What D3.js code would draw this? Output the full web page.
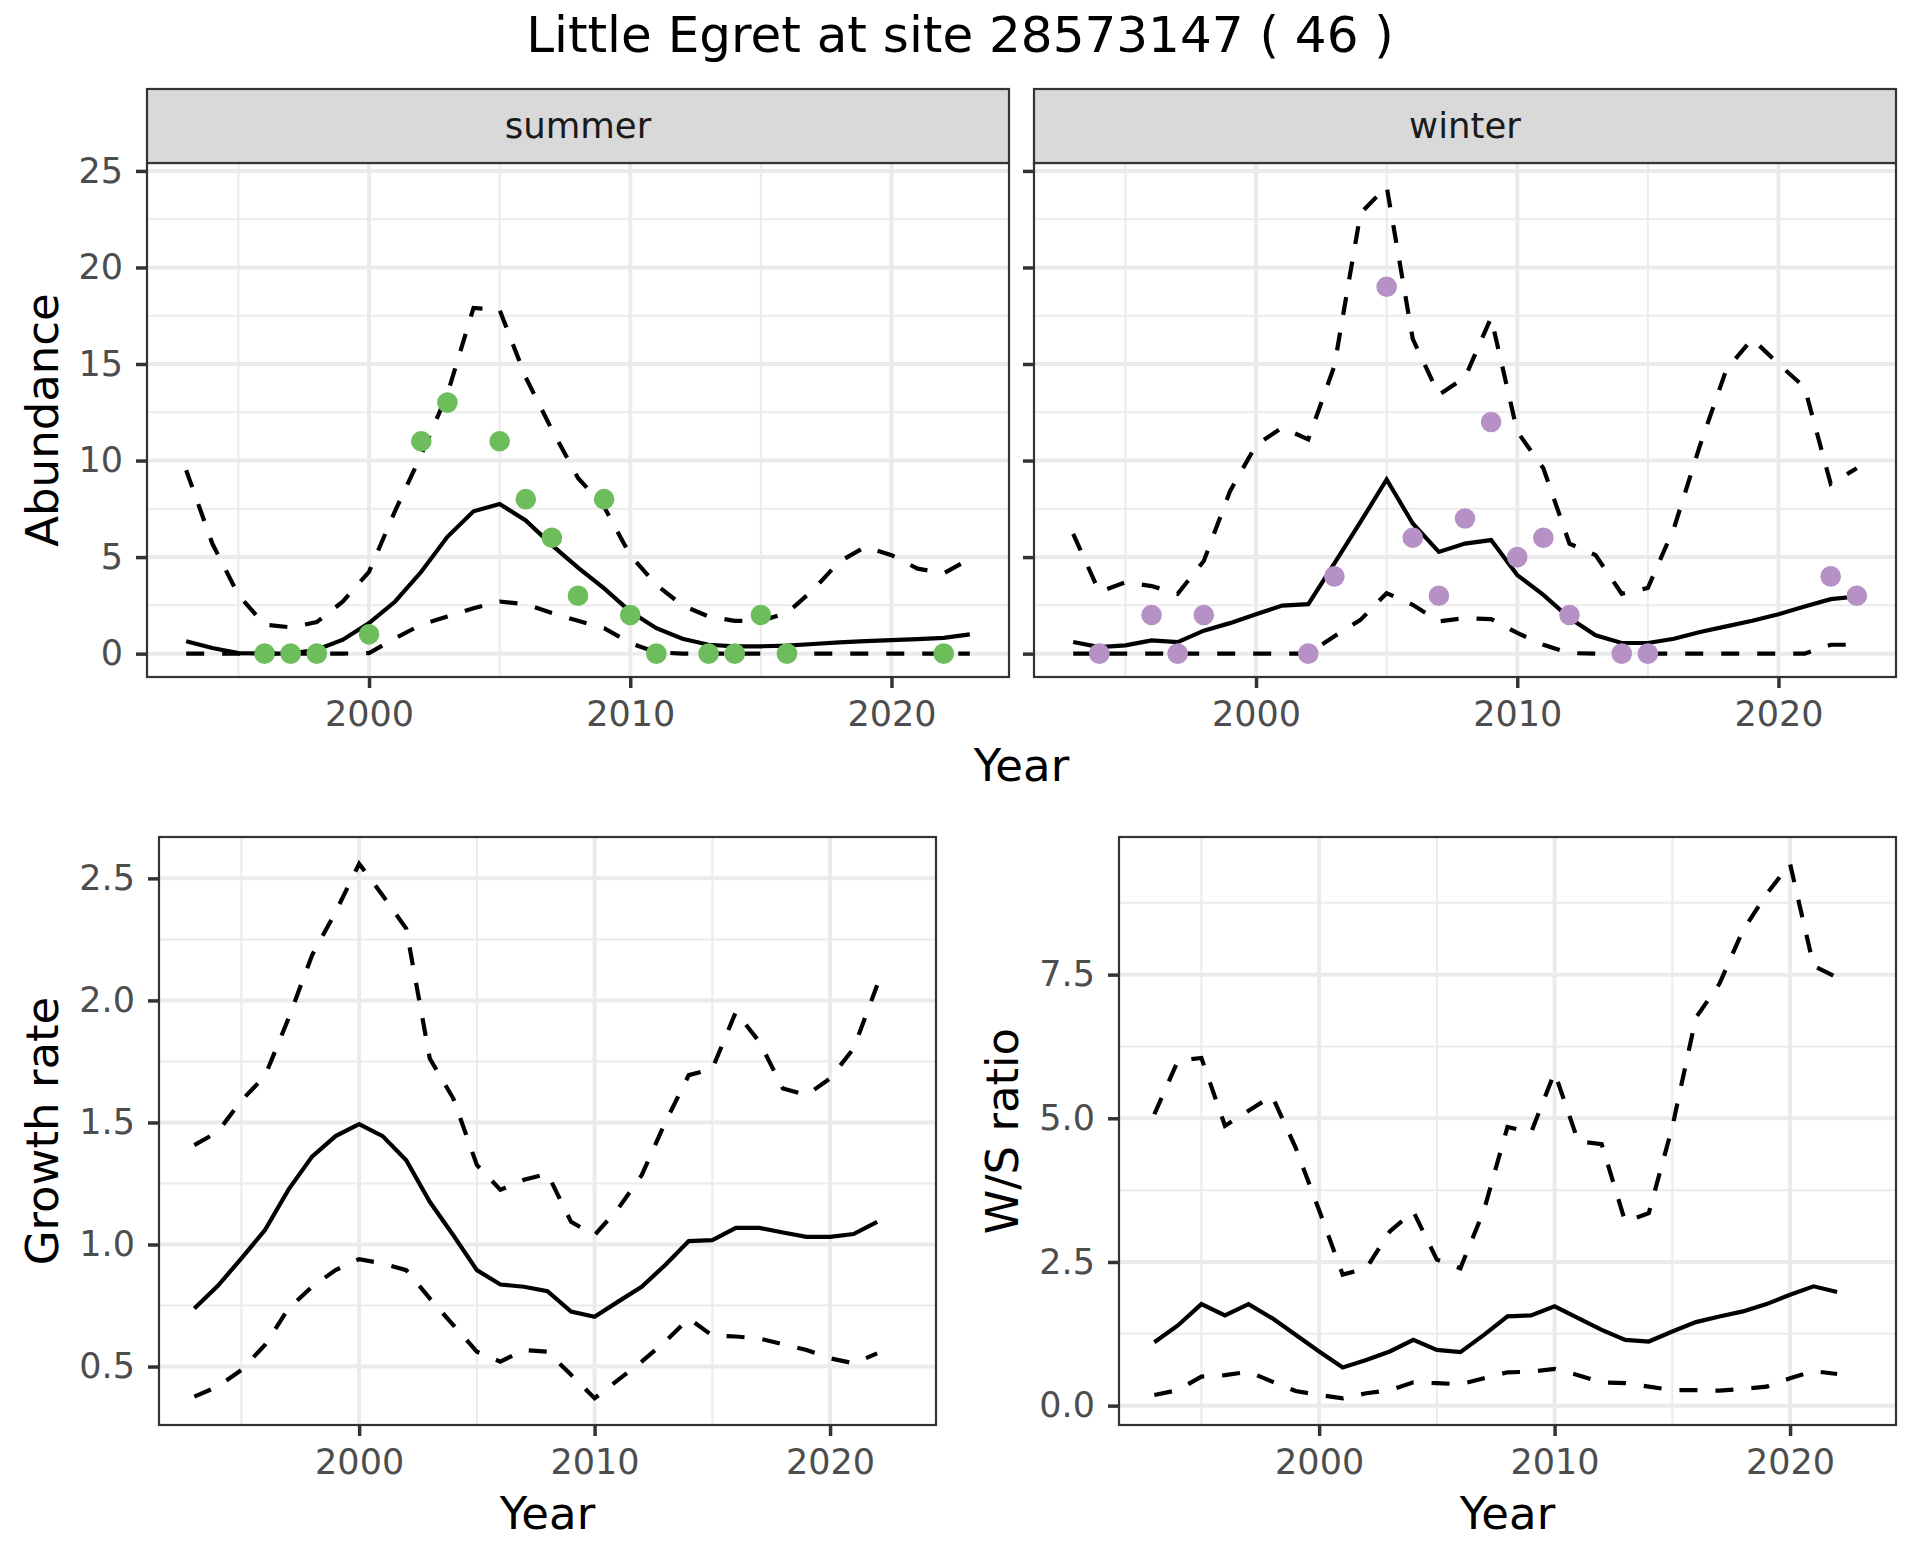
<!DOCTYPE html>
<html lang="en">
<head>
<meta charset="utf-8">
<title>Little Egret at site 28573147</title>
<script src="https://d3js.org/d3.v7.min.js"></script>
<style>
  body { margin: 0; background: #fff; }
  text { font-family: "DejaVu Sans", sans-serif; }
</style>
</head>
<body>
<div id="chart"></div>
<script>
// ---- data ----
var years = [1993,1994,1995,1996,1997,1998,1999,2000,2001,2002,2003,2004,2005,2006,2007,2008,
             2009,2010,2011,2012,2013,2014,2015,2016,2017,2018,2019,2020,2021,2022,2023];
var yearsShort = [1993,1994,1995,1996,1997,1998,1999,2000,2001,2002,2003,2004,2005,2006,2007,2008,
                  2009,2010,2011,2012,2013,2014,2015,2016,2017,2018,2019,2020,2021,2022];

var summerMid  = [0.64,0.29,0.03,0,0,0.2,0.72,1.58,2.7,4.24,6.05,7.37,7.75,6.9,5.62,4.45,
                  3.38,2.18,1.32,0.77,0.46,0.38,0.38,0.41,0.5,0.58,0.65,0.7,0.75,0.82,1.0];
var summerLow  = [0,0,0,0,0,0,0,0.03,0.8,1.5,1.92,2.35,2.7,2.56,2.1,1.7,
                  1.32,0.55,0.07,0,0,0,0,0,0,0,0,0,0,0,0];
var summerHigh = [9.5,5.7,3.04,1.5,1.36,1.63,2.7,4.24,7.4,10.3,13.45,17.9,17.8,14.3,11.6,9.1,
                  7.6,5.1,3.56,2.5,1.92,1.7,1.7,2.1,3.3,4.76,5.53,5.1,4.4,4.16,4.9];
var summerObsYears = [1996,1997,1998,2000,2002,2003,2005,2006,2007,2008,2009,2010,2011,2013,2014,2015,2016,2022];
var summerObs      = [0,0,0,1,11,13,11,8,6,3,8,2,0,0,0,2,0,0];

var winterMid  = [0.6,0.34,0.43,0.69,0.6,1.19,1.58,2.04,2.49,2.56,4.67,6.82,9.02,6.74,5.27,5.7,
                  5.88,4.07,3.04,1.84,0.95,0.55,0.55,0.77,1.12,1.41,1.7,2.04,2.44,2.82,2.96];
var winterLow  = [0,0,0,0,0,0,0,0,0,0,0.9,1.75,3.13,2.53,1.67,1.84,
                  1.79,1.07,0.46,0.03,0,0,0,0,0,0,0,0,0,0.46,0.46];
var winterHigh = [6.2,3.2,3.7,3.5,3.1,4.8,8.4,10.8,11.7,11.1,14.9,22.8,24.2,16.3,13.4,14.3,
                  17.4,11.5,9.6,5.7,5.1,3.1,3.4,6.5,10.8,14.7,16.3,15.0,13.8,8.8,9.6];
var winterObsYears = [1994,1996,1997,1998,2002,2003,2005,2006,2007,2008,2009,2010,2011,2012,2014,2015,2022,2023];
var winterObs      = [0,2,0,2,0,4,19,6,3,7,12,5,6,2,0,0,4,3];

var growthMid  = [0.738,0.831,0.943,1.059,1.225,1.36,1.444,1.493,1.444,1.345,1.175,1.038,0.895,0.836,0.827,
                  0.809,0.725,0.704,0.766,0.827,0.916,1.014,1.018,1.068,1.068,1.049,1.031,1.031,1.043,1.093];
var growthLow  = [0.377,0.418,0.486,0.588,0.738,0.827,0.895,0.94,0.922,0.895,0.779,0.67,0.561,0.52,0.568,
                  0.561,0.466,0.37,0.445,0.52,0.602,0.697,0.627,0.623,0.615,0.591,0.568,0.534,0.513,0.554];
var growthHigh = [1.407,1.462,1.59,1.69,1.926,2.185,2.362,2.56,2.43,2.294,1.762,1.598,1.326,1.224,1.265,
                  1.29,1.093,1.038,1.147,1.284,1.5,1.694,1.72,1.953,1.83,1.639,1.612,1.68,1.803,2.062];

var ratioMid  = [1.104,1.395,1.767,1.57,1.767,1.523,1.232,0.942,0.663,0.795,0.942,1.144,0.97,0.93,1.232,
                 1.552,1.57,1.727,1.523,1.319,1.144,1.116,1.29,1.453,1.552,1.64,1.767,1.93,2.076,1.976];
var ratioLow  = [0.185,0.27,0.505,0.53,0.59,0.418,0.255,0.185,0.128,0.215,0.27,0.406,0.39,0.372,0.476,
                 0.58,0.59,0.64,0.53,0.406,0.39,0.33,0.27,0.27,0.26,0.29,0.33,0.476,0.6,0.55];
var ratioHigh = [5.07,6.0,6.05,4.87,5.13,5.39,4.49,3.4,2.28,2.39,3.03,3.38,2.54,2.39,3.4,
                 4.85,4.75,5.8,4.6,4.55,3.2,3.35,4.85,6.75,7.34,8.27,8.9,9.43,7.65,7.45];

var xTicks = [2000, 2010, 2020];
var xMinor = [1995, 2005, 2015];
var abundanceTicks = [0, 5, 10, 15, 20, 25];
var abundanceMinor = [2.5, 7.5, 12.5, 17.5, 22.5];
var growthTicks = [0.5, 1.0, 1.5, 2.0, 2.5];
var growthMinor = [0.75, 1.25, 1.75, 2.25];
var ratioTicks = [0, 2.5, 5, 7.5];
var ratioMinor = [1.25, 3.75, 6.25, 8.75];

var summerColor = "#6dbd5d", winterColor = "#b591c6";

// ---- drawing ----
var W = 1920, H = 1560;
var svg = d3.select("#chart").append("svg")
  .attr("width", W).attr("height", H);

function expand(ext) {
  var pad = (ext[1] - ext[0]) * 0.05;
  return [ext[0] - pad, ext[1] + pad];
}

var xDomain = expand([1993, 2023]);

function panel(p) {
  var g = svg.append("g").attr("transform", "translate(" + p.left + "," + p.top + ")");
  var x = d3.scaleLinear().domain(xDomain).range([0, p.width]);
  var y = d3.scaleLinear().domain(p.yDomain).range([p.height, 0]);

  // minor grid
  g.selectAll(".xminor").data(xMinor).enter().append("line")
    .attr("x1", d => x(d)).attr("x2", d => x(d)).attr("y1", 0).attr("y2", p.height)
    .attr("stroke", "#ebebeb").attr("stroke-width", 2);
  g.selectAll(".yminor").data(p.yMinor).enter().append("line")
    .attr("y1", d => y(d)).attr("y2", d => y(d)).attr("x1", 0).attr("x2", p.width)
    .attr("stroke", "#ebebeb").attr("stroke-width", 2);
  // major grid
  g.selectAll(".xmajor").data(xTicks).enter().append("line")
    .attr("x1", d => x(d)).attr("x2", d => x(d)).attr("y1", 0).attr("y2", p.height)
    .attr("stroke", "#ebebeb").attr("stroke-width", 4);
  g.selectAll(".ymajor").data(p.yTicks).enter().append("line")
    .attr("y1", d => y(d)).attr("y2", d => y(d)).attr("x1", 0).attr("x2", p.width)
    .attr("stroke", "#ebebeb").attr("stroke-width", 4);

  var line = d3.line().x(d => x(d[0])).y(d => y(d[1]));
  p.lines.forEach(function (s) {
    g.append("path")
      .datum(s.xs.map((v, i) => [v, s.ys[i]]))
      .attr("d", line)
      .attr("fill", "none")
      .attr("stroke", "#000")
      .attr("stroke-width", 4.2)
      .attr("stroke-dasharray", s.dashed ? "18,18" : null);
  });

  if (p.points) {
    g.selectAll(".pt").data(p.points.xs).enter().append("circle")
      .attr("cx", d => x(d)).attr("cy", (d, i) => y(p.points.ys[i]))
      .attr("r", 10.3).attr("fill", p.points.color);
  }

  g.append("rect").attr("width", p.width).attr("height", p.height)
    .attr("fill", "none").attr("stroke", "#333").attr("stroke-width", 2.2);

  // axes
  var ax = g.append("g").attr("transform", "translate(0," + p.height + ")")
    .call(d3.axisBottom(x).tickValues(xTicks).tickFormat(d3.format("d")).tickSize(11).tickPadding(13));
  var ay = g.append("g")
    .call(d3.axisLeft(y).tickValues(p.yTicks).tickFormat(p.yFormat).tickSize(11).tickPadding(13));
  [ax, ay].forEach(function (a) {
    a.select(".domain").remove();
    a.selectAll(".tick line").attr("stroke", "#333").attr("stroke-width", 3.5);
    a.selectAll("text").attr("fill", "#4d4d4d").style("font-size", "35px")
      .style("font-family", "'DejaVu Sans', sans-serif");
  });
  if (!p.showY) ay.selectAll("text").remove();

  if (p.strip) {
    var s = svg.append("g").attr("transform", "translate(" + p.left + "," + (p.top - 74) + ")");
    s.append("rect").attr("width", p.width).attr("height", 74)
      .attr("fill", "#d9d9d9").attr("stroke", "#333").attr("stroke-width", 2.2);
    s.append("text").attr("x", p.width / 2).attr("y", 49)
      .attr("text-anchor", "middle").attr("fill", "#1a1a1a").style("font-size", "35.5px")
      .text(p.strip);
  }
}

var abDomain = expand(d3.extent([].concat(summerLow, summerHigh, winterLow, winterHigh, summerObs, winterObs)));

panel({ left: 147, top: 163, width: 862, height: 514, yDomain: abDomain,
  yTicks: abundanceTicks, yMinor: abundanceMinor, yFormat: d3.format("d"), showY: true,
  strip: "summer",
  lines: [{ xs: years, ys: summerMid }, { xs: years, ys: summerLow, dashed: true },
          { xs: years, ys: summerHigh, dashed: true }],
  points: { xs: summerObsYears, ys: summerObs, color: summerColor } });

panel({ left: 1034, top: 163, width: 862, height: 514, yDomain: abDomain,
  yTicks: abundanceTicks, yMinor: abundanceMinor, yFormat: d3.format("d"), showY: false,
  strip: "winter",
  lines: [{ xs: years, ys: winterMid }, { xs: years, ys: winterLow, dashed: true },
          { xs: years, ys: winterHigh, dashed: true }],
  points: { xs: winterObsYears, ys: winterObs, color: winterColor } });

panel({ left: 159, top: 837, width: 777, height: 588,
  yDomain: expand(d3.extent([].concat(growthLow, growthHigh))),
  yTicks: growthTicks, yMinor: growthMinor, yFormat: d3.format(".1f"), showY: true,
  lines: [{ xs: yearsShort, ys: growthMid }, { xs: yearsShort, ys: growthLow, dashed: true },
          { xs: yearsShort, ys: growthHigh, dashed: true }] });

panel({ left: 1119, top: 837, width: 777, height: 588,
  yDomain: expand(d3.extent([].concat(ratioLow, ratioHigh))),
  yTicks: ratioTicks, yMinor: ratioMinor, yFormat: d3.format(".1f"), showY: true,
  lines: [{ xs: yearsShort, ys: ratioMid }, { xs: yearsShort, ys: ratioLow, dashed: true },
          { xs: yearsShort, ys: ratioHigh, dashed: true }] });

// titles
svg.append("text").attr("x", 960).attr("y", 52).attr("text-anchor", "middle")
  .style("font-size", "50px").attr("fill", "#000").text("Little Egret at site 28573147 ( 46 )");

function xTitle(cx, by) {
  svg.append("text").attr("x", cx).attr("y", by).attr("text-anchor", "middle")
    .style("font-size", "45px").attr("fill", "#000").text("Year");
}
function yTitle(bx, cy, label) {
  svg.append("text").attr("transform", "translate(" + bx + "," + cy + ") rotate(-90)")
    .attr("text-anchor", "middle").style("font-size", "45px").attr("fill", "#000").text(label);
}
xTitle(1021.5, 781);
xTitle(547.5, 1529);
xTitle(1507.5, 1529);
yTitle(58, 420, "Abundance");
yTitle(58, 1131, "Growth rate");
yTitle(1018, 1131, "W/S ratio");
</script>
</body>
</html>
